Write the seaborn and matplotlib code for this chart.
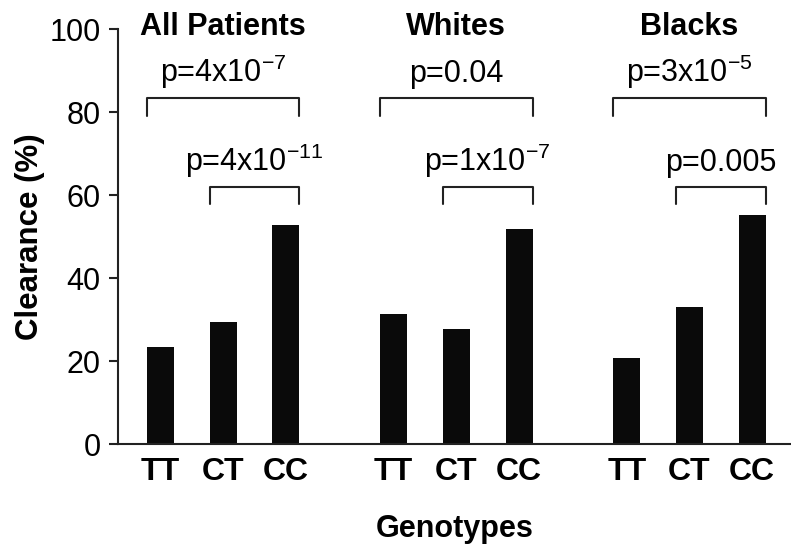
import matplotlib
matplotlib.use('Agg')
import matplotlib.pyplot as plt
import seaborn as sns
import pandas as pd

# ---- data ----
groups = ['All Patients', 'Whites', 'Blacks']
genotypes = ['TT', 'CT', 'CC']
all_patients = [23.3, 29.5, 52.8]
whites = [31.3, 27.8, 51.8]
blacks = [20.8, 33.0, 55.2]
p_outer = ['p=4x10$^{-7}$', 'p=0.04', 'p=3x10$^{-5}$']      # TT vs CC
p_inner = ['p=4x10$^{-11}$', 'p=1x10$^{-7}$', 'p=0.005']    # CT vs CC
y_ticks = [0, 20, 40, 60, 80, 100]

# ---- layout constants ----
GROUP_STEP = 3.72
BAR_W = 0.43

rows = []
for gi, (g, vals) in enumerate(zip(groups, [all_patients, whites, blacks])):
    for ki, (gt, v) in enumerate(zip(genotypes, vals)):
        rows.append(dict(group=g, genotype=gt, pos=gi * GROUP_STEP + ki, value=v))
df = pd.DataFrame(rows)

sns.set_style('ticks')
plt.rcParams['font.family'] = ['Liberation Sans', 'DejaVu Sans']
plt.rcParams['mathtext.fontset'] = 'custom'
plt.rcParams['mathtext.rm'] = 'Liberation Sans'
plt.rcParams['mathtext.it'] = 'Liberation Sans:italic'
plt.rcParams['mathtext.bf'] = 'Liberation Sans:bold'
for k in ['text.color', 'axes.labelcolor', 'xtick.color', 'ytick.color']:
    plt.rcParams[k] = 'black'

W, H = 791, 545
fig = plt.figure(figsize=(W / 100, H / 100), dpi=100)
ax = fig.add_axes([118 / W, 1 - 444 / H, 1 - 118 / W, (444 - 29.3) / H])

sns.barplot(data=df, x='pos', y='value', native_scale=True, width=BAR_W,
            color='#0a0a0a', saturation=1, edgecolor='none', errorbar=None, ax=ax)

ax.set_xlim(-0.68, 10.06)
ax.set_ylim(0, 100)
ax.set_yticks(y_ticks)
ax.set_xticks(df['pos'].tolist())
ax.set_xticklabels(df['genotype'].tolist())
for lbl in ax.get_xticklabels():
    lbl.set_fontweight('bold')

sns.despine(ax=ax)
for s in ['left', 'bottom']:
    ax.spines[s].set_linewidth(1.5)
    ax.spines[s].set_color('#222222')
ax.tick_params(axis='y', length=6.5, width=1.5, pad=6, labelsize=22, color='#222222')
ax.tick_params(axis='x', length=0, pad=9, labelsize=23)

ax.set_xlabel('Genotypes', fontsize=22, fontweight='bold', va='baseline')
ax.xaxis.set_label_coords(0.5, (444 - 536.7) / 414.7)
ax.set_ylabel('Clearance (%)', fontsize=22.5, fontweight='bold', va='center')
ax.yaxis.set_label_coords((30 - 118) / 673, 0.5)

bc = '#222222'
for gi in range(len(groups)):
    base = gi * GROUP_STEP
    x1 = base + 2 + BAR_W / 2
    # outer bracket TT-CC
    x0 = base - BAR_W / 2
    ax.plot([x0, x0, x1, x1], [79.2, 83.4, 83.4, 79.2], color=bc, lw=1.5, clip_on=False)
    ax.text((x0 + x1) / 2, 87.3, p_outer[gi], ha='center', va='baseline', fontsize=22)
    # inner bracket CT-CC
    x0 = base + 1 - BAR_W / 2
    ax.plot([x0, x0, x1, x1], [57.9, 61.9, 61.9, 57.9], color=bc, lw=1.5, clip_on=False)
    ax.text((x0 + x1) / 2, 65.9, p_inner[gi], ha='center', va='baseline', fontsize=22)
    # group title
    ax.text(base + 1, 98.6, groups[gi], ha='center', va='baseline', fontsize=22,
            fontweight='bold', clip_on=False)

fig.savefig('out.png', dpi=100)
